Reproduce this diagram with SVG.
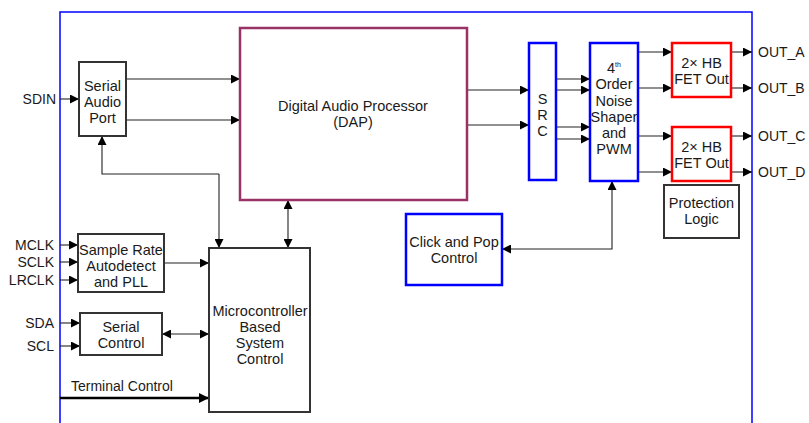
<svg xmlns="http://www.w3.org/2000/svg" width="809" height="423" viewBox="0 0 809 423">
<style>
text{font-family:"Liberation Sans",Arial,sans-serif;font-size:14.5px;fill:#1a1a1a;text-anchor:middle}
.lbl{text-anchor:start;font-size:14px}
.lblr{text-anchor:end;font-size:14px}
.blk{fill:#fff;stroke:#333;stroke-width:2}
.blue{fill:#fff;stroke:#0000ff;stroke-width:2.5}
.red{fill:#fff;stroke:#ff0000;stroke-width:2.5}
.dap{fill:#fff;stroke:#993366;stroke-width:2.5}
.ln{fill:none;stroke:#222;stroke-width:1.1}
.arr{marker-end:url(#ah)}
.both{marker-start:url(#ah);marker-end:url(#ah)}
</style>
<defs>
<marker id="ah" viewBox="0 0 10 10" refX="10" refY="5" markerWidth="10" markerHeight="9" markerUnits="userSpaceOnUse" orient="auto-start-reverse"><path d="M0,0 L10,5 L0,10 z" fill="#000"/></marker>
<marker id="ahb" viewBox="0 0 10 10" refX="10" refY="5" markerWidth="11" markerHeight="10" markerUnits="userSpaceOnUse" orient="auto"><path d="M0,0 L10,5 L0,10 z" fill="#000"/></marker>
</defs>
<rect width="809" height="423" fill="#fff"/>
<path d="M60,423 V12 H752 V423" fill="none" stroke="#0000ff" stroke-width="1.5"/>

<g id="connectors">
<line class="ln arr" x1="60" y1="99" x2="79" y2="99"/>
<line class="ln arr" x1="126" y1="79" x2="240" y2="79"/>
<line class="ln arr" x1="126" y1="120" x2="240" y2="120"/>
<polyline class="ln arr" points="219,174 102,174 102,136"/>
<line class="ln arr" x1="219" y1="174" x2="219" y2="248"/>
<line class="ln both" x1="288" y1="200" x2="288" y2="248"/>
<line class="ln arr" x1="60" y1="245" x2="78" y2="245"/>
<line class="ln arr" x1="60" y1="262" x2="78" y2="262"/>
<line class="ln arr" x1="60" y1="280" x2="78" y2="280"/>
<line class="ln arr" x1="164" y1="263" x2="209" y2="263"/>
<line class="ln arr" x1="60" y1="323" x2="80" y2="323"/>
<line class="ln arr" x1="60" y1="346" x2="80" y2="346"/>
<line class="ln both" x1="162" y1="334" x2="209" y2="334"/>
<line fill="none" stroke="#000" stroke-width="2.5" x1="60" y1="398" x2="209" y2="398" marker-end="url(#ahb)"/>
<line class="ln arr" x1="467" y1="90" x2="529" y2="90"/>
<line class="ln arr" x1="467" y1="125" x2="529" y2="125"/>
<line class="ln arr" x1="556" y1="79" x2="590" y2="79"/>
<line class="ln arr" x1="556" y1="90" x2="590" y2="90"/>
<line class="ln arr" x1="556" y1="127" x2="590" y2="127"/>
<line class="ln arr" x1="556" y1="139" x2="590" y2="139"/>
<line class="ln arr" x1="638" y1="52" x2="672" y2="52"/>
<line class="ln arr" x1="638" y1="88" x2="672" y2="88"/>
<line class="ln arr" x1="638" y1="136" x2="672" y2="136"/>
<line class="ln arr" x1="638" y1="172" x2="672" y2="172"/>
<line class="ln arr" x1="731" y1="52" x2="752" y2="52"/>
<line class="ln arr" x1="731" y1="88" x2="752" y2="88"/>
<line class="ln arr" x1="731" y1="136" x2="752" y2="136"/>
<line class="ln arr" x1="731" y1="172" x2="752" y2="172"/>
<polyline class="ln both" points="502,249 612,249 612,181"/>
</g>

<g id="labels">
<text class="lblr" x="56" y="104">SDIN</text>
<text class="lblr" x="54" y="250">MCLK</text>
<text class="lblr" x="54" y="267">SCLK</text>
<text class="lblr" x="54" y="285">LRCLK</text>
<text class="lblr" x="54" y="328">SDA</text>
<text class="lblr" x="54" y="351">SCL</text>
<text class="lbl" x="71" y="391">Terminal Control</text>
<text class="lbl" x="758" y="57">OUT_A</text>
<text class="lbl" x="758" y="93">OUT_B</text>
<text class="lbl" x="758" y="141">OUT_C</text>
<text class="lbl" x="758" y="177">OUT_D</text>
</g>

<g id="serial-audio-port">
<rect class="blk" x="79" y="62" width="47" height="74"/>
<text x="102.5" y="91">Serial</text>
<text x="102.5" y="107">Audio</text>
<text x="102.5" y="123">Port</text>
</g>

<g id="dap">
<rect class="dap" x="240" y="28" width="227" height="172"/>
<text x="353" y="111">Digital Audio Processor</text>
<text x="353" y="127">(DAP)</text>
</g>

<g id="sample-rate">
<rect class="blk" x="78" y="234" width="86" height="58"/>
<text x="121" y="255">Sample Rate</text>
<text x="121" y="271">Autodetect</text>
<text x="121" y="287">and PLL</text>
</g>

<g id="serial-control">
<rect class="blk" x="80" y="313" width="82" height="42"/>
<text x="121" y="332">Serial</text>
<text x="121" y="348">Control</text>
</g>

<g id="microcontroller">
<rect class="blk" x="209" y="248" width="101" height="164"/>
<text x="260" y="316">Microcontroller</text>
<text x="260" y="332">Based</text>
<text x="260" y="348">System</text>
<text x="260" y="364">Control</text>
</g>

<g id="src">
<rect class="blue" x="529" y="43" width="27" height="137"/>
<text x="542.5" y="104">S</text>
<text x="542.5" y="120">R</text>
<text x="542.5" y="136">C</text>
</g>

<g id="noise-shaper">
<rect class="blue" x="590" y="43" width="48" height="138"/>
<text x="614" y="73">4<tspan font-size="7" dy="-6">th</tspan></text>
<text x="614" y="89">Order</text>
<text x="614" y="106">Noise</text>
<text x="614" y="122">Shaper</text>
<text x="614" y="138">and</text>
<text x="614" y="154">PWM</text>
</g>

<g id="fet-out-1">
<rect class="red" x="672" y="43" width="59" height="54"/>
<text x="701.5" y="68">2× HB</text>
<text x="701.5" y="84">FET Out</text>
</g>

<g id="fet-out-2">
<rect class="red" x="672" y="127" width="59" height="54"/>
<text x="701.5" y="152">2× HB</text>
<text x="701.5" y="168">FET Out</text>
</g>

<g id="protection-logic">
<rect class="blk" x="664" y="185" width="75" height="53"/>
<text x="701.5" y="208">Protection</text>
<text x="701.5" y="224">Logic</text>
</g>

<g id="click-pop">
<rect class="blue" x="406" y="214" width="96" height="71"/>
<text x="454" y="247">Click and Pop</text>
<text x="454" y="263">Control</text>
</g>
</svg>
